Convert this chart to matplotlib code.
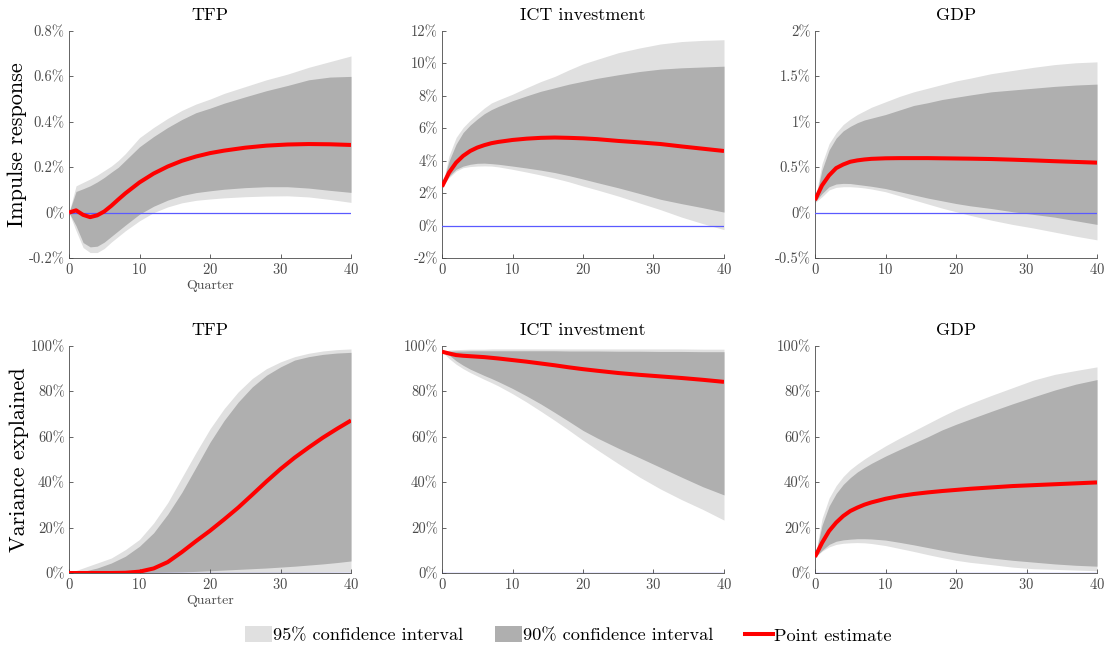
import matplotlib
matplotlib.use("Agg")
import matplotlib.pyplot as plt
from matplotlib.patches import Patch, Rectangle
from matplotlib.lines import Line2D
from matplotlib.legend_handler import HandlerPatch

plt.rcParams["font.family"] = "serif"
plt.rcParams["font.serif"] = ["cmr10", "DejaVu Serif"]
plt.rcParams["mathtext.fontset"] = "cm"
plt.rcParams["axes.unicode_minus"] = False
plt.rcParams["axes.formatter.use_mathtext"] = True

# ---- data (percent) ----
Q = [0, 1, 2, 3, 4, 5, 6, 7, 8, 10, 12, 14, 16, 18, 20, 22, 25, 28, 31, 34, 37, 40]
Q2 = [0, 2, 4, 6, 8, 10, 12, 14, 16, 18, 20, 22, 24, 26, 28, 30, 32, 34, 36, 38, 40]

# impulse responses
tfp_irf = [0.0, 0.01, -0.01, -0.02, -0.012, 0.005, 0.03, 0.058, 0.085, 0.133, 0.172, 0.203, 0.228,
           0.247, 0.262, 0.273, 0.286, 0.295, 0.300, 0.302, 0.301, 0.298]
tfp_irf_hi90 = [0.0, 0.093, 0.105, 0.118, 0.135, 0.155, 0.178, 0.20, 0.23, 0.29, 0.335, 0.375, 0.41,
                0.44, 0.46, 0.482, 0.51, 0.537, 0.56, 0.585, 0.597, 0.60]
tfp_irf_lo90 = [0.0, -0.058, -0.132, -0.151, -0.148, -0.13, -0.105, -0.08, -0.055, -0.007, 0.028,
                0.055, 0.075, 0.088, 0.096, 0.103, 0.11, 0.114, 0.114, 0.108, 0.098, 0.089]
tfp_irf_hi95 = [0.0, 0.118, 0.133, 0.148, 0.165, 0.185, 0.205, 0.23, 0.26, 0.33, 0.375, 0.415, 0.45,
                0.478, 0.50, 0.525, 0.555, 0.585, 0.61, 0.64, 0.665, 0.69]
tfp_irf_lo95 = [0.0, -0.08, -0.154, -0.176, -0.176, -0.158, -0.13, -0.105, -0.08, -0.036, 0.0, 0.025,
                0.043, 0.054, 0.06, 0.065, 0.07, 0.073, 0.074, 0.069, 0.058, 0.045]

ict_irf = [2.4, 3.27, 3.88, 4.3, 4.6, 4.81, 4.96, 5.08, 5.16, 5.28, 5.36, 5.41, 5.43, 5.41, 5.38,
           5.33, 5.22, 5.13, 5.03, 4.88, 4.74, 4.6]
ict_irf_hi90 = [2.4, 3.98, 5.02, 5.74, 6.2, 6.57, 6.9, 7.15, 7.35, 7.7, 8.0, 8.28, 8.5, 8.72, 8.9,
                9.08, 9.3, 9.5, 9.65, 9.73, 9.78, 9.83]
ict_irf_lo90 = [2.4, 3.05, 3.47, 3.67, 3.78, 3.84, 3.85, 3.82, 3.78, 3.67, 3.55, 3.42, 3.27, 3.08,
                2.87, 2.65, 2.33, 1.98, 1.62, 1.35, 1.1, 0.83]
ict_irf_hi95 = [2.4, 4.3, 5.43, 6.05, 6.5, 6.88, 7.25, 7.56, 7.75, 8.1, 8.5, 8.88, 9.2, 9.6, 9.97,
                10.25, 10.66, 10.95, 11.2, 11.35, 11.42, 11.46]
ict_irf_lo95 = [2.4, 2.95, 3.36, 3.57, 3.64, 3.67, 3.68, 3.67, 3.62, 3.47, 3.3, 3.12, 2.92, 2.7,
                2.44, 2.2, 1.82, 1.4, 0.98, 0.52, 0.12, -0.25]

gdp_irf = [0.138, 0.30, 0.41, 0.49, 0.53, 0.56, 0.575, 0.585, 0.592, 0.598, 0.60, 0.60, 0.60, 0.598,
           0.596, 0.594, 0.59, 0.583, 0.575, 0.566, 0.558, 0.55]
gdp_irf_hi90 = [0.13, 0.47, 0.69, 0.82, 0.90, 0.95, 0.99, 1.02, 1.04, 1.08, 1.13, 1.18, 1.21, 1.245,
                1.27, 1.295, 1.33, 1.35, 1.37, 1.39, 1.405, 1.415]
gdp_irf_lo90 = [0.12, 0.21, 0.285, 0.315, 0.322, 0.32, 0.31, 0.30, 0.29, 0.265, 0.23, 0.195, 0.16,
                0.13, 0.10, 0.075, 0.045, 0.01, -0.02, -0.05, -0.09, -0.13]
gdp_irf_hi95 = [0.14, 0.54, 0.76, 0.88, 0.97, 1.03, 1.08, 1.12, 1.16, 1.22, 1.28, 1.33, 1.37, 1.41,
                1.45, 1.48, 1.53, 1.565, 1.6, 1.63, 1.65, 1.66]
gdp_irf_lo95 = [0.11, 0.175, 0.25, 0.278, 0.285, 0.285, 0.28, 0.272, 0.26, 0.23, 0.185, 0.14, 0.095,
                0.05, 0.01, -0.03, -0.083, -0.13, -0.17, -0.215, -0.26, -0.30]

# variance decomposition (TFP panel read every 2 quarters)
tfp_fevd = [0, 0, 0, 0, 0.1, 0.6, 2.0, 4.8, 9.2, 14.0, 18.6, 23.6, 28.8, 34.5, 40.3, 45.8, 50.8,
            55.3, 59.6, 63.5, 67.2]
tfp_fevd_hi90 = [0, 0.7, 2.2, 4.4, 7.4, 11.8, 17.7, 25.9, 35.5, 46.5, 57.6, 67.2, 75.3, 82.0, 87.1,
                 90.8, 93.8, 95.3, 96.3, 96.9, 97.2]
tfp_fevd_lo90 = [0, 0, 0, 0, 0.1, 0.2, 0.3, 0.4, 0.5, 0.7, 1.0, 1.3, 1.6, 1.9, 2.2, 2.6, 3.0, 3.5,
                 4.0, 4.6, 5.3]
tfp_fevd_hi95 = [0, 2.2, 4.4, 6.6, 10.3, 14.8, 22.0, 31.0, 42.0, 53.0, 63.5, 72.4, 79.8, 85.7, 90.0,
                 93.0, 95.3, 96.8, 97.8, 98.4, 98.7]
tfp_fevd_lo95 = [0, 0, 0, 0, 0, 0, 0, 0, 0, 0, 0.05, 0.1, 0.12, 0.15, 0.18, 0.2, 0.25, 0.3, 0.35,
                 0.42, 0.5]

ict_fevd = [97.5, 96.7, 96.0, 95.7, 95.5, 95.3, 95.1, 94.8, 94.5, 93.8, 93.1, 92.3, 91.5, 90.6,
            89.8, 89.1, 88.1, 87.3, 86.6, 85.9, 85.1, 84.2]
ict_fevd_hi90 = [97.5, 97.7, 97.8, 97.8, 97.9, 97.9, 97.9, 97.9, 97.9, 97.9, 97.9, 97.9, 97.9,
                 97.8, 97.8, 97.8, 97.7, 97.7, 97.6, 97.6, 97.5, 97.5]
ict_fevd_lo90 = [97.5, 96.0, 93.5, 91.5, 89.8, 88.4, 87.0, 85.7, 84.3, 81.3, 78.0, 74.5, 70.7, 66.8,
                 62.8, 59.5, 55.0, 50.8, 46.5, 42.2, 38.0, 34.4]
ict_fevd_hi95 = [97.5, 98.2, 98.4, 98.5, 98.6, 98.6, 98.6, 98.7, 98.7, 98.7, 98.7, 98.7, 98.7,
                 98.7, 98.7, 98.7, 98.7, 98.7, 98.7, 98.7, 98.6, 98.6]
ict_fevd_lo95 = [97.5, 94.5, 92.0, 90.0, 88.3, 86.8, 85.3, 83.9, 82.4, 79.0, 75.3, 71.3, 67.2, 62.9,
                 58.5, 54.3, 48.2, 42.3, 37.0, 32.3, 28.0, 23.3]

gdp_fevd = [7.1, 13.3, 18.5, 22.2, 25.1, 27.3, 28.8, 30.1, 31.1, 32.7, 33.9, 34.8, 35.5, 36.1, 36.6,
            37.1, 37.7, 38.3, 38.7, 39.1, 39.5, 39.9]
gdp_fevd_hi90 = [7.0, 21.0, 29.5, 35.0, 39.0, 42.0, 44.5, 46.5, 48.3, 51.5, 54.4, 57.2, 60.0, 63.0,
                 65.5, 67.8, 71.2, 74.5, 77.6, 80.6, 83.2, 85.2]
gdp_fevd_lo90 = [7.0, 10.0, 12.6, 14.0, 14.6, 14.9, 15.1, 15.1, 15.0, 14.5, 13.5, 12.4, 11.2, 10.0,
                 8.9, 7.9, 6.6, 5.6, 4.8, 4.0, 3.4, 3.0]
gdp_fevd_hi95 = [7.0, 24.0, 33.0, 38.5, 42.5, 45.6, 48.0, 50.2, 52.2, 56.0, 59.4, 62.6, 65.8, 69.0,
                 72.0, 74.6, 78.2, 81.6, 85.0, 87.5, 89.2, 90.8]
gdp_fevd_lo95 = [7.0, 9.6, 11.5, 12.6, 13.1, 13.3, 13.4, 13.3, 13.0, 12.1, 10.8, 9.5, 8.1, 6.8,
                 5.6, 4.7, 3.7, 2.6, 1.9, 1.6, 1.3, 1.0]

titles = ["TFP", "ICT investment", "GDP"]
row_labels = ["Impulse response", "Variance explained"]

irf_yticks = [[-0.2, 0, 0.2, 0.4, 0.6, 0.8],
              [-2, 0, 2, 4, 6, 8, 10, 12],
              [-0.5, 0, 0.5, 1, 1.5, 2]]
irf_yticklabels = [["-0.2%", "0%", "0.2%", "0.4%", "0.6%", "0.8%"],
                   ["-2%", "0%", "2%", "4%", "6%", "8%", "10%", "12%"],
                   ["-0.5%", "0%", "0.5%", "1%", "1.5%", "2%"]]
fevd_yticks = [0, 20, 40, 60, 80, 100]
fevd_yticklabels = ["0%", "20%", "40%", "60%", "80%", "100%"]

panels = [
    (Q, tfp_irf, tfp_irf_lo90, tfp_irf_hi90, tfp_irf_lo95, tfp_irf_hi95),
    (Q, ict_irf, ict_irf_lo90, ict_irf_hi90, ict_irf_lo95, ict_irf_hi95),
    (Q, gdp_irf, gdp_irf_lo90, gdp_irf_hi90, gdp_irf_lo95, gdp_irf_hi95),
    (Q2, tfp_fevd, tfp_fevd_lo90, tfp_fevd_hi90, tfp_fevd_lo95, tfp_fevd_hi95),
    (Q, ict_fevd, ict_fevd_lo90, ict_fevd_hi90, ict_fevd_lo95, ict_fevd_hi95),
    (Q, gdp_fevd, gdp_fevd_lo90, gdp_fevd_hi90, gdp_fevd_lo95, gdp_fevd_hi95),
]

C95 = "#e0e0e0"
C90 = "#afafaf"
RED = "#ff0000"
BLUE = "#5a5aff"
AXC = "#4a4a4a"

fig = plt.figure(figsize=(11.07, 6.46), dpi=100)
lefts = [69 / 1107, 442 / 1107, 815 / 1107]
bottoms = [1 - 258 / 646, 1 - 573 / 646]
W, H = 282 / 1107, 227 / 646

for k, (x, mid, lo90, hi90, lo95, hi95) in enumerate(panels):
    r, c = divmod(k, 3)
    ax = fig.add_axes([lefts[c], bottoms[r], W, H])
    ax.fill_between(x, lo95, hi95, color=C95, lw=0)
    ax.fill_between(x, lo90, hi90, color=C90, lw=0)
    ax.axhline(0, color=BLUE, lw=0.9, zorder=3)
    ax.plot(x, mid, color=RED, lw=2.9, zorder=4, solid_capstyle="butt", solid_joinstyle="round")
    ax.set_xlim(0, 40)
    ax.set_xticks([0, 10, 20, 30, 40])
    if r == 0:
        ax.set_ylim(irf_yticks[c][0], irf_yticks[c][-1])
        ax.set_yticks(irf_yticks[c])
        ax.set_yticklabels(irf_yticklabels[c])
    else:
        ax.set_ylim(0, 100)
        ax.set_yticks(fevd_yticks)
        ax.set_yticklabels(fevd_yticklabels)
    for s in ["top", "right"]:
        ax.spines[s].set_visible(False)
    for s in ["left", "bottom"]:
        ax.spines[s].set_color(AXC)
        ax.spines[s].set_linewidth(0.6)
    ax.tick_params(direction="in", length=3, width=0.6, colors=AXC, labelsize=10.5, pad=3)
    ax.set_title(titles[c], fontsize=13, pad=8)
    if c == 0:
        ax.set_ylabel(row_labels[r], fontsize=16, labelpad=1)
        ax.set_xlabel("Quarter", fontsize=10, color=AXC, labelpad=2)


def narrow_patch(legend, orig_handle, xdescent, ydescent, width, height, fontsize):
    # MATLAB-style legend swatch: a little narrower than the line handle
    w = width * 0.96
    return Rectangle((width - w - xdescent, -ydescent), w, height)


handles = [Patch(facecolor=C95, edgecolor="none"),
           Patch(facecolor=C90, edgecolor="none"),
           Line2D([], [], color=RED, lw=2.9)]
labels = ["95% confidence interval", "90% confidence interval", "Point estimate"]
fig.legend(handles, labels, loc="center", bbox_to_anchor=(0.5127, 1 - 635 / 646), ncol=3,
           frameon=False, fontsize=13.2, handlelength=1.53, handleheight=0.93,
           handletextpad=0.05, columnspacing=1.7,
           handler_map={Patch: HandlerPatch(patch_func=narrow_patch)})

fig.savefig("out.png", dpi=100)
